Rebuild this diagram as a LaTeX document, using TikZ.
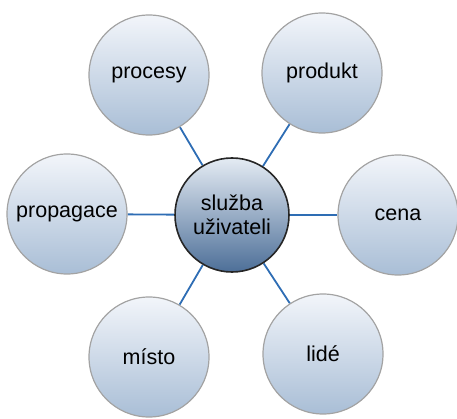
\documentclass[tikz,border=0pt]{standalone}
\usepackage{fontspec}
\setmainfont{Liberation Sans}
\definecolor{outtop}{HTML}{F2F5FA}
\definecolor{outbot}{HTML}{A9BED6}
\definecolor{centop}{HTML}{E4EBF3}
\definecolor{cenbot}{HTML}{4D6F98}
\definecolor{linkblue}{HTML}{2E6DB4}
\definecolor{outline}{HTML}{A3A3A3}
\pgfdeclarelayer{background}
\pgfsetlayers{background,main}
\begin{document}
\begin{tikzpicture}[x=1pt,y=-1pt,
  outer/.style={circle, minimum size=120pt, inner sep=0pt, draw=outline, line width=1.2pt,
    top color=outtop, bottom color=outbot, font=\fontsize{21.5}{24}\selectfont},
  center/.style={circle, minimum size=114pt, inner sep=0pt, draw=black!85, line width=1.6pt,
    top color=centop, bottom color=cenbot, font=\fontsize{21.5}{24}\selectfont, align=center},
  link/.style={draw=linkblue, line width=1.8pt}]
\useasboundingbox (0,0) rectangle (457,419);
\node[center] (c) at (232,215) {služba\\uživateli};
\node[outer] (procesy) at (149,75) {procesy};
\node[outer] (produkt) at (322,73) {produkt};
\node[outer] (cena) at (398,215) {cena};
\node[outer] (propagace) at (67,214) {propagace};
\node[outer] (misto) at (149,357) {místo};
\node[outer] (lide) at (323,354) {lidé};
\begin{pgfonlayer}{background}
\foreach \n in {procesy,produkt,cena,propagace,misto,lide}
  \draw[link] (c) -- (\n);
\end{pgfonlayer}
\end{tikzpicture}
\end{document}
